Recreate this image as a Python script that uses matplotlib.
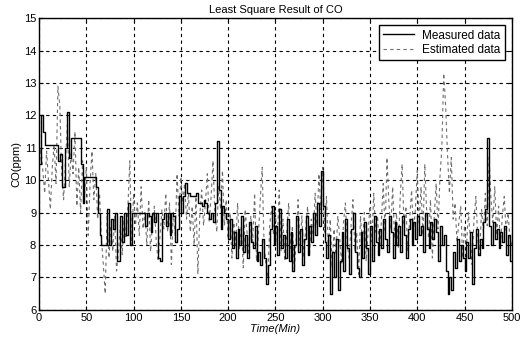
"""Least square result of CO: measured vs estimated concentration."""

import matplotlib.pyplot as plt
import numpy as np

plt.rcParams["font.family"] = ["Liberation Sans", "DejaVu Sans"]

# ---------------------------------------------------------------------------
# Data (2-minute spacing, 0..500 min)
# ---------------------------------------------------------------------------
TIME_STEP = 2

MEASURED = [
    # 0-48
    10.5, 12.0, 11.5, 11.1, 11.1, 11.1, 11.1, 11.1, 11.1, 11.1, 10.6, 10.8, 9.8,
    9.8, 11.0, 12.1, 10.7, 11.3, 11.3, 11.3, 11.3, 11.3, 10.5, 9.3, 10.1,
    # 50-98
    10.1, 10.1, 10.1, 10.1, 10.1, 9.8, 9.0, 8.3, 8.0, 8.0, 8.0, 9.1, 8.0,
    8.8, 8.5, 9.0, 7.5, 7.5, 8.9, 8.1, 9.0, 8.3, 9.3, 8.0, 9.0,
    # 100-148
    9.0, 9.0, 9.0, 9.0, 9.0, 9.0, 8.6, 9.0, 8.9, 8.4, 9.0, 8.7, 9.0,
    7.6, 7.5, 8.8, 9.0, 8.6, 9.0, 8.3, 9.0, 8.9, 8.1, 8.5, 9.5,
    # 150-198
    9.0, 9.5, 9.9, 9.6, 9.6, 9.5, 9.5, 9.5, 9.6, 9.3, 9.3, 9.2, 9.4,
    9.3, 9.0, 8.8, 9.0, 8.7, 9.3, 11.2, 9.7, 8.5, 9.2, 9.0, 8.8,
    # 200-248
    8.2, 8.8, 7.9, 8.4, 7.6, 8.5, 8.0, 8.9, 7.8, 8.3, 7.6, 8.7, 8.1,
    7.9, 8.6, 7.5, 7.8, 7.4, 8.2, 7.6, 6.8, 7.4, 8.5, 9.2, 8.0,
    # 250-298
    8.6, 7.7, 9.1, 7.9, 8.3, 7.6, 8.8, 7.5, 8.4, 7.2, 8.0, 8.9, 7.8,
    8.5, 7.4, 8.2, 8.9, 7.7, 8.6, 8.1, 9.0, 8.3, 9.3, 8.6, 10.3,
    # 300-348
    9.2, 8.1, 7.6, 8.3, 6.5, 7.8, 7.0, 8.2, 6.6, 7.5, 8.4, 7.2, 8.8,
    7.9, 7.1, 8.5, 9.0, 7.8, 7.3, 7.0, 8.4, 7.6, 8.7, 7.9, 7.1,
    # 350-398
    8.6, 7.5, 8.9, 8.1, 7.7, 8.5, 7.9, 8.8, 8.2, 7.8, 8.9, 8.4, 7.6,
    8.7, 8.0, 8.6, 7.8, 8.9, 8.3, 7.6, 8.5, 8.8, 8.0, 8.7, 8.2,
    # 400-448
    8.9, 8.3, 8.6, 7.8, 9.0, 8.5, 7.9, 8.7, 8.2, 8.8, 8.4, 7.5, 8.6,
    8.0, 8.3, 7.2, 6.5, 7.0, 6.6, 7.8, 7.3, 8.2, 7.5, 8.0, 7.6,
    # 450-498
    7.2, 8.1, 7.6, 8.4, 6.8, 7.9, 8.5, 7.7, 8.2, 7.9, 8.7, 9.1, 11.3,
    8.6, 8.0, 8.7, 8.2, 8.5, 7.9, 8.4, 8.1, 8.6, 7.7, 8.3, 7.5,
    # 500
    7.5,
]

ESTIMATED = [
    # 0-48
    10.2, 11.0, 10.3, 9.6, 10.9, 10.0, 9.1, 10.4, 11.1, 9.9, 12.9, 12.3, 10.2,
    9.4, 10.6, 11.7, 9.8, 10.9, 10.2, 11.5, 9.2, 10.4, 9.0, 10.6, 9.5,
    # 50-98
    10.4, 8.3, 9.9, 10.9, 9.4, 10.2, 8.8, 9.6, 8.2, 7.4, 6.5, 8.9, 7.6,
    8.6, 7.8, 8.9, 7.2, 7.8, 8.6, 7.7, 8.8, 8.2, 9.2, 10.6, 8.0,
    # 100-148
    9.6, 8.6, 9.3, 8.3, 9.8, 8.5, 9.0, 8.0, 9.4, 7.8, 8.7, 9.2, 8.1,
    7.5, 8.3, 9.1, 8.5, 9.6, 8.4, 9.3, 7.4, 9.0, 8.3, 10.2, 8.9,
    # 150-198
    10.1, 9.3, 9.9, 8.8, 9.6, 8.4, 9.2, 8.0, 9.5, 7.1, 8.9, 9.7, 8.6,
    9.3, 10.2, 8.7, 9.5, 10.6, 9.0, 8.4, 9.8, 9.1, 10.3, 8.6, 9.4,
    # 200-248
    8.2, 9.0, 7.6, 8.7, 8.0, 9.3, 7.9, 8.6, 7.3, 9.1, 8.4, 7.7, 8.9,
    8.1, 9.6, 7.5, 8.3, 9.4, 10.4, 8.0, 7.4, 7.0, 8.6, 9.2, 8.3,
    # 250-298
    9.0, 8.1, 9.7, 7.8, 8.8, 7.5, 8.4, 9.3, 7.9, 8.6, 7.2, 8.2, 9.4,
    8.0, 8.9, 7.6, 8.5, 9.2, 7.7, 8.8, 8.3, 9.6, 8.6, 10.2, 9.1,
    # 300-348
    10.4, 8.4, 9.5, 7.9, 8.8, 7.3, 8.5, 7.7, 8.9, 8.2, 7.4, 8.7, 9.3,
    8.0, 7.6, 8.6, 9.4, 7.8, 8.4, 7.1, 8.9, 8.0, 9.0, 7.5, 8.4,
    # 350-398
    9.2, 8.1, 9.6, 8.4, 8.9, 7.8, 8.7, 9.9, 8.4, 10.7, 9.3, 8.5, 9.8,
    8.2, 9.0, 7.9, 9.5, 10.5, 8.6, 9.2, 7.8, 8.8, 9.7, 8.4, 9.1,
    # 400-448
    10.3, 8.7, 9.8, 8.3, 10.5, 9.0, 8.2, 9.4, 7.6, 8.9, 9.9, 8.5, 10.1,
    11.0, 13.3, 12.3, 10.8, 9.6, 10.7, 8.8, 9.3, 8.1, 8.7, 9.2, 7.6,
    # 450-498
    8.6, 7.9, 9.0, 8.3, 7.4, 8.8, 9.5, 8.2, 7.7, 9.1, 8.4, 9.6, 8.6,
    10.7, 9.4, 8.7, 9.8, 8.3, 9.2, 8.0, 8.9, 9.5, 8.4, 9.0, 8.2,
    # 500
    8.0,
]

X_TICKS = [0, 50, 100, 150, 200, 250, 300, 350, 400, 450, 500]
Y_TICKS = [6, 7, 8, 9, 10, 11, 12, 13, 14, 15]


def main() -> None:
    t = np.arange(len(MEASURED)) * TIME_STEP

    fig = plt.figure(figsize=(5.23, 3.49), dpi=100, facecolor="white")
    ax = fig.add_axes([0.0746, 0.112, 0.904, 0.836])

    ax.plot(t, ESTIMATED, color="#6e6e6e", linewidth=0.8,
            linestyle=(0, (3, 3)), label="Estimated data", zorder=2)
    ax.step(t, MEASURED, where="post", color="black", linewidth=1.0,
            label="Measured data", zorder=3)

    ax.set_xlim(0, 500)
    ax.set_ylim(6, 15)
    ax.set_xticks(X_TICKS)
    ax.set_yticks(Y_TICKS)
    ax.tick_params(direction="in", length=3, labelsize=8, width=0.8,
                   top=True, right=True, pad=2)
    for spine in ax.spines.values():
        spine.set_color("black")
        spine.set_linewidth(1.0)

    ax.grid(True, color="black", linestyle=(0, (3, 3)), linewidth=0.8)
    ax.set_axisbelow(True)

    ax.set_title("Least Square Result of CO", fontsize=8, pad=4)
    ax.set_xlabel("Time(Min)", fontsize=8, style="italic", labelpad=1)
    ax.set_ylabel("CO(ppm)", fontsize=8, labelpad=2)

    handles, labels = ax.get_legend_handles_labels()
    leg = ax.legend(handles[::-1], labels[::-1], loc="upper right",
                    bbox_to_anchor=(0.985, 0.975), fontsize=8.5,
                    frameon=True, fancybox=False, framealpha=1,
                    edgecolor="black", handlelength=2.6, borderpad=0.35,
                    labelspacing=0.2, handletextpad=0.7, borderaxespad=0)
    leg.get_frame().set_linewidth(1.0)

    fig.savefig("out.png", dpi=100, facecolor="white")
    plt.close(fig)


if __name__ == "__main__":
    main()
